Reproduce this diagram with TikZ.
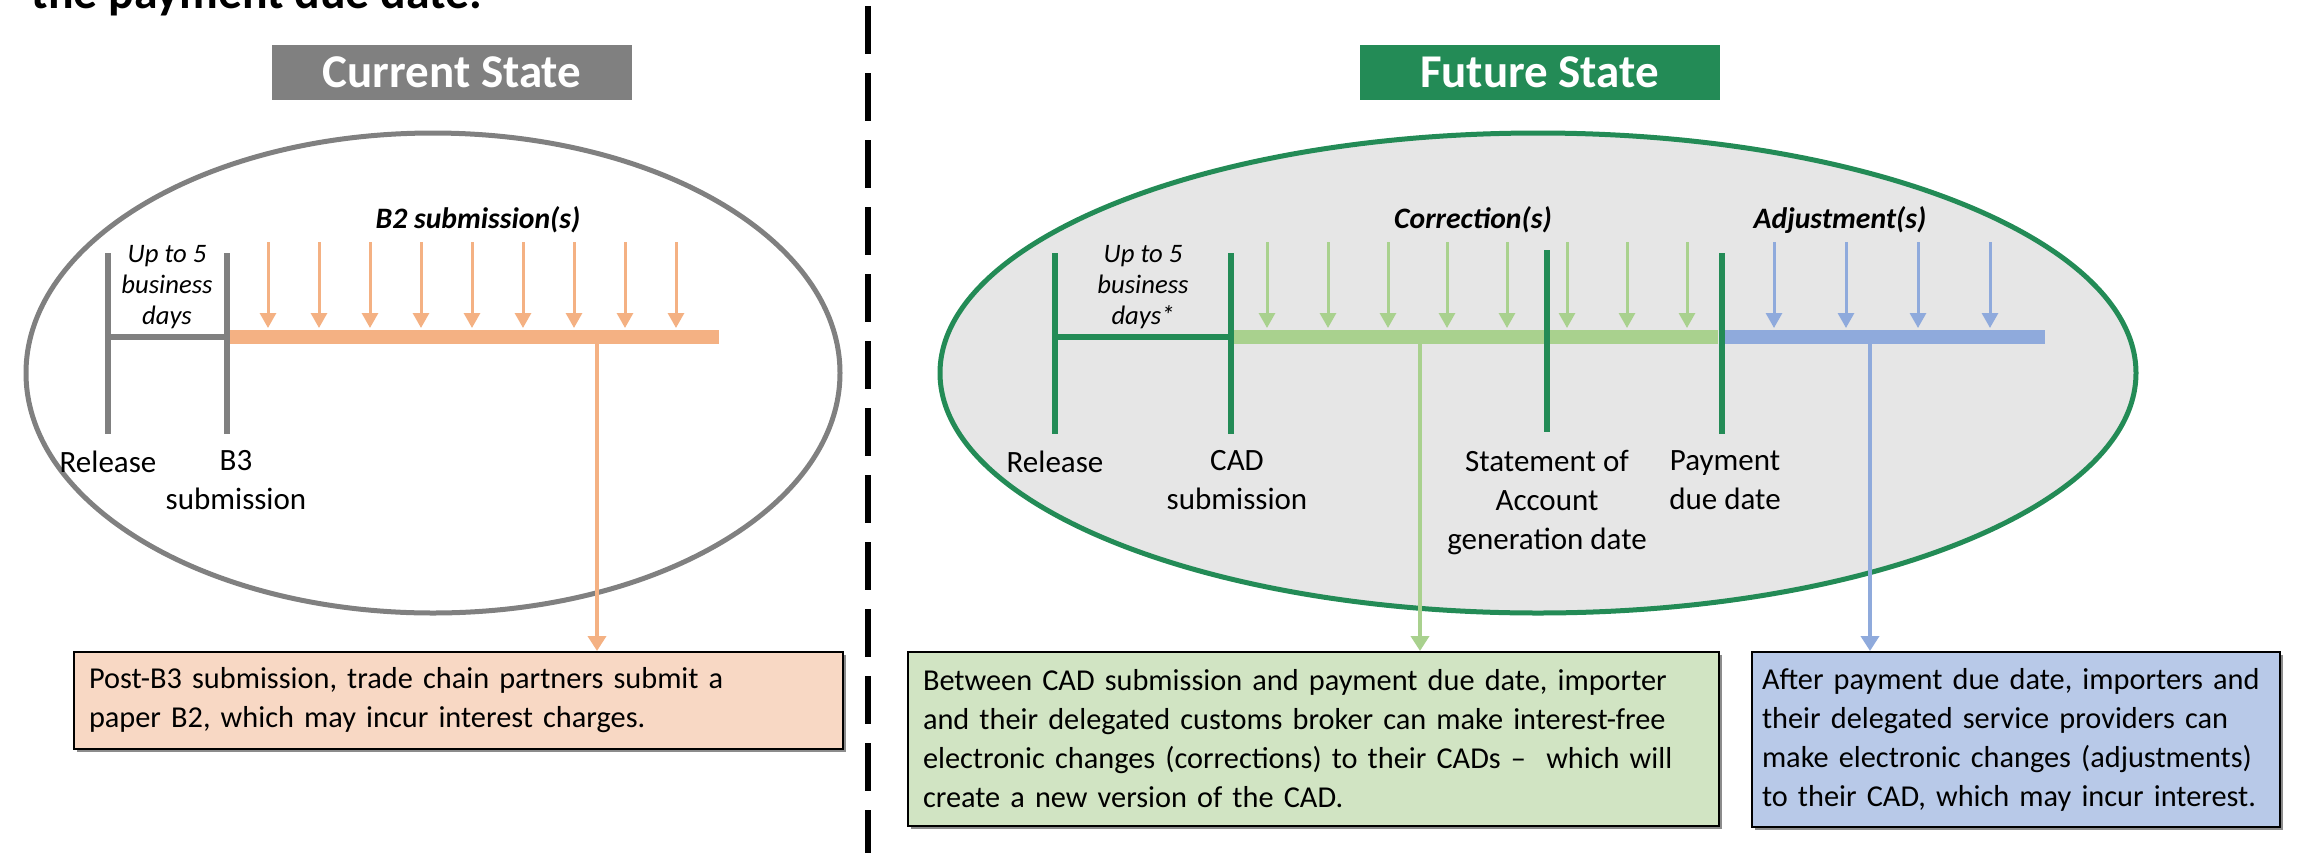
\documentclass[tikz,border=0pt]{standalone}
\usepackage{fontspec}
\setmainfont{Carlito}
\usetikzlibrary{positioning}
\usetikzlibrary{arrows.meta,shadows}

\definecolor{cgray}{RGB}{128,128,128}
\definecolor{cgreen}{RGB}{35,139,86}
\definecolor{corange}{RGB}{244,177,131}
\definecolor{cgreenlt}{RGB}{169,209,142}
\definecolor{cblue}{RGB}{143,170,220}
\definecolor{orangefill}{RGB}{248,216,196}
\definecolor{greenfill}{RGB}{209,228,195}
\definecolor{bluefill}{RGB}{184,201,232}
\definecolor{ellfill}{RGB}{230,230,230}

\tikzset{
  titlebox/.style={text=white, font=\bfseries\fontsize{14.1}{17}\selectfont,
    minimum width=108pt, minimum height=16.5pt, inner sep=0pt},
  bar/.style={line width=1.8pt},
  band/.style={line width=4.2pt},
  tick/.style={line width=0.9pt, -{Triangle[width=4.8pt,length=4.5pt]}},
  drop/.style={line width=1.2pt, -{Triangle[width=5.4pt,length=4.5pt]}},
  datelabel/.style={align=center, inner sep=0pt, font=\fontsize{9.3}{11.7}\selectfont},
  spanlabel/.style={align=center, inner sep=0pt, font=\itshape\fontsize{8}{9.3}\selectfont},
  phase/.style={anchor=base, inner sep=0pt, font=\bfseries\itshape\fontsize{8.9}{11}\selectfont},
  note/.style={draw=black, line width=0.6pt, anchor=north west, align=left,
    inner xsep=4.5pt, font=\fontsize{9.1}{11.7}\selectfont,
    execute at begin node={\hyphenpenalty=10000},
    drop shadow={shadow xshift=0.8pt, shadow yshift=-0.8pt, opacity=0.45, fill=black}}
}

\begin{document}
\begin{tikzpicture}[x=0.3pt, y=-0.3pt]
    \useasboundingbox (0,0) rectangle (2320,852);
    \clip (0,0) rectangle (2320,852);

    % heading cut off by the page top
    \node(head) [anchor=base west, inner sep=0pt, font=\bfseries\fontsize{14.3}{17}\selectfont] at (31,8) {the payment due date.};

    % divider
    \coordinate(divtop) at (868,6);
    \coordinate(divbot) at (868,900);
    \draw[line width=1.8pt, dash pattern=on 14.4pt off 5.7pt] (divtop) -- (divbot);

    % state titles
    \node(cur) [titlebox, fill=cgray] at (452,72.5) {Current State};
    \node(fut) [titlebox, fill=cgreen] at (1539.5,72.5) {Future State};

    % ellipses
    \draw[cgray, line width=1.5pt] (433,373) ellipse [x radius=407, y radius=240];
    \draw[cgreen, fill=ellfill, line width=1.5pt] (1538,373) ellipse [x radius=598, y radius=240];

    % current timeline
    \coordinate(cRt) at (108,253);
    \coordinate(cRb) at (108,434);
    \coordinate(cBt) at (227,253);
    \coordinate(cBb) at (227,434);
    \coordinate(cRm) at (108,337);
    \coordinate(cBm) at (227,337);
    \coordinate(cEnd) at (719,337);
    \coordinate(cDrop) at (597,337);
    \draw[bar, cgray] (cRt) -- (cRb);
    \draw[bar, cgray] (cBt) -- (cBb);
    \draw[bar, cgray] (cRm) -- (cBm);
    \draw[band, corange] ([xshift=0.9pt]cBm) -- (cEnd);
    \foreach \x in {268,319,...,676}
        \draw[tick, corange] (\x,242) -- (\x,328);

    \node(cSpan) [spanlabel, anchor=north] at (167,245) {Up to 5\\business\\days};
    \node(cPhase) [phase] at (478,228) {B2 submission(s)};
    \node(cRel) [datelabel, below=4.8pt of cRb] {Release};
    \node(cB3) [datelabel, below=4.8pt of cBb, xshift=2.7pt] {B3\\submission};

    % future timeline
    \coordinate(fRt) at (1055,253);
    \coordinate(fRb) at (1055,434);
    \coordinate(fCt) at (1231,253);
    \coordinate(fCb) at (1231,434);
    \coordinate(fSt) at (1547,250);
    \coordinate(fSb) at (1547,432);
    \coordinate(fPt) at (1722,253);
    \coordinate(fPb) at (1722,434);
    \coordinate(fRm) at (1055,337);
    \coordinate(fCm) at (1231,337);
    \coordinate(fPm) at (1722,337);
    \coordinate(fEnd) at (2045,337);
    \coordinate(fDropC) at (1420,337);
    \coordinate(fDropA) at (1870,337);
    \draw[band, cgreenlt] ([xshift=0.9pt]fCm) -- ([xshift=-1.2pt]fPm);
    \draw[band, cblue] ([xshift=0.6pt]fPm) -- (fEnd);
    \draw[bar, cgreen] (fRt) -- (fRb);
    \draw[bar, cgreen] (fCt) -- (fCb);
    \draw[bar, cgreen] (fSt) -- (fSb);
    \draw[bar, cgreen] (fPt) -- (fPb);
    \draw[bar, cgreen] (fRm) -- (fCm);
    \foreach \x in {1267,1328,1388,1447,1507,1567,1627,1687}
        \draw[tick, cgreenlt] (\x,242) -- (\x,328);
    \foreach \x in {1774,1846,1918,1990}
        \draw[tick, cblue] (\x,242) -- (\x,328);

    \node(fSpan) [spanlabel, anchor=north] at (1143,245) {Up to 5\\business\\days*};
    \node(fCorr) [phase] at (1473,228) {Correction(s)};
    \node(fAdj) [phase] at (1840,228) {Adjustment(s)};
    \node(fRel) [datelabel, below=4.8pt of fRb] {Release};
    \node(fCad) [datelabel, below=4.8pt of fCb, xshift=1.8pt] {CAD\\submission};
    \node(fSoa) [datelabel, below=5.4pt of fSb] {Statement of\\Account\\generation date};
    \node(fPay) [datelabel, below=4.8pt of fPb, xshift=0.9pt] {Payment\\due date};

    % notes
    \node(curnote) [note, fill=orangefill, text width=221.7pt, minimum height=29.1pt] at (73,651)
        {Post-B3 submission, trade chain partners submit a\\paper B2, which may incur interest charges.};
    \node(cornote) [note, fill=greenfill, text width=234.3pt, minimum height=52.2pt] at (907,651)
        {Between CAD submission and payment due date, importer\\and their delegated customs broker can make interest-free\\electronic changes (corrections) to their CADs --~ which will\\create a new version of the CAD.};
    \node(adjnote) [note, fill=bluefill, inner xsep=3pt, text width=152.4pt, minimum height=52.5pt] at (1751,651)
        {After payment due date, importers and\\their delegated service providers can\\make electronic changes (adjustments)\\to their CAD, which may incur interest.};

    \draw[drop, corange] (cDrop) -- (curnote.north -| cDrop);
    \draw[drop, cgreenlt] (fDropC) -- (cornote.north -| fDropC);
    \draw[drop, cblue] (fDropA) -- (adjnote.north -| fDropA);
\end{tikzpicture}
\end{document}
